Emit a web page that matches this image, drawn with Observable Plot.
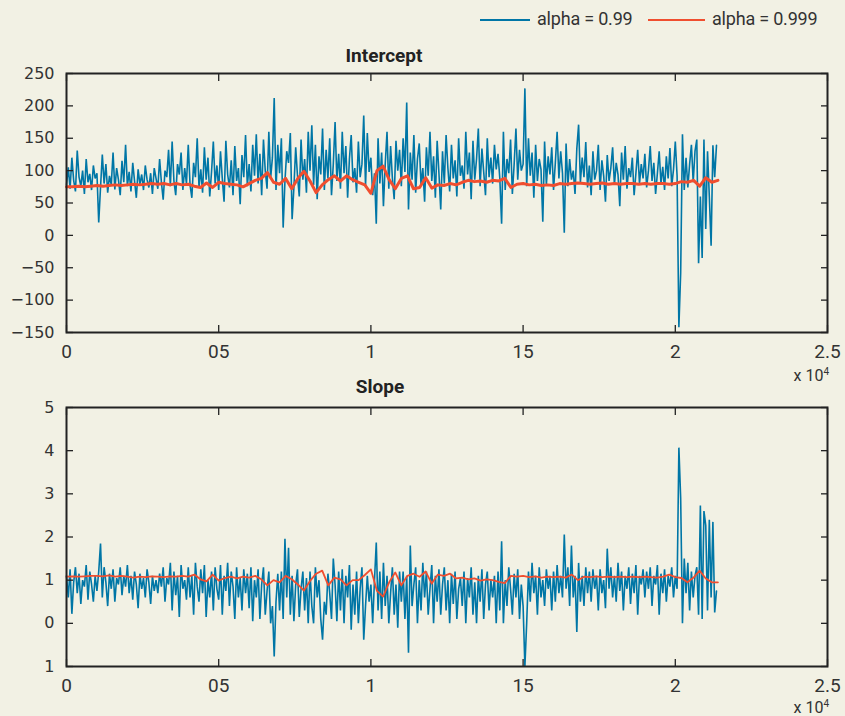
<!DOCTYPE html>
<html>
<head>
<meta charset="utf-8">
<script src="https://cdn.jsdelivr.net/npm/d3@7"></script>
<script src="https://cdn.jsdelivr.net/npm/@observablehq/plot@0.6"></script>
<style>
  body { margin: 0; background: #f2f1e4; }
  #root { position: relative; width: 845px; height: 716px; overflow: hidden; font-family: "DejaVu Sans", sans-serif; color: #333; }
  .abs { position: absolute; white-space: nowrap; }
  .plotwrap { position: absolute; left: 0; }
  .legtext { font-family: Roboto, sans-serif; font-size: 18px; letter-spacing: -0.2px; line-height: 20px; color: #333; }
  .title { font-family: Roboto, sans-serif; font-weight: 700; font-size: 19px; line-height: 22px; color: #222; transform: translateX(-50%); }
  .expo { font-family: Roboto, sans-serif; font-size: 16px; line-height: 18px; color: #333; transform: translateX(-100%); }
  .expo sup { font-size: 10px; vertical-align: 6px; line-height: 0; }
</style>
</head>
<body>
<div id="root"></div>
<script>
const BLUE = "#0076a6";
const RED = "#f04e2f";

// sample spacing of the two series (samples along the x axis)
const blueStep = 1000 / 17;
const redStep = 200;

const xTicks = [0, 5000, 10000, 15000, 20000, 25000];
const xTickLabels = ["0", "05", "1", "15", "2", "2.5"];

const interceptTicks = [-150, -100, -50, 0, 50, 100, 150, 200, 250];
const interceptTickLabels = ["\u2212150", "\u2212100", "\u221250", "0", "50", "100", "150", "200", "250"];

const slopeTicks = [-1, 0, 1, 2, 3, 4, 5];
const slopeTickLabels = ["1", "0", "1", "2", "3", "4", "5"];

const seriesNames = ["alpha = 0.99", "alpha = 0.999"];

// Intercept, alpha = 0.99
const blueIntercept = [
  78,105,72,120,85,68,131,90,76,100,64,118,82,95,70,108,88,
  96,20,74,125,80,110,66,92,78,128,71,104,86,62,115,82,140,
  76,98,68,112,84,58,102,79,94,70,108,86,74,96,64,104,88,
  72,118,82,55,100,90,132,76,145,84,62,110,94,128,70,104,80,
  140,78,58,112,90,150,74,102,66,136,86,120,60,98,145,80,108,
  70,130,88,52,146,94,74,116,62,138,84,104,48,124,90,155,76,
  110,68,140,92,156,80,126,62,148,100,72,160,88,120,212,70,140,
  96,150,12,84,130,112,158,25,74,136,92,60,148,86,118,66,160,
  100,170,78,140,56,122,94,165,70,132,88,150,62,110,175,84,126,
  72,160,96,138,58,118,155,82,104,66,145,90,110,185,76,158,98,
  120,62,96,18,150,80,128,45,110,160,72,138,88,56,146,100,132,
  76,150,98,205,40,128,86,155,66,118,142,78,104,52,136,92,160,
  84,122,58,146,96,40,130,80,155,104,68,140,88,116,60,150,92,
  108,72,160,94,128,56,146,86,118,165,76,134,98,62,150,90,120,
  80,140,102,126,88,18,160,70,118,96,148,64,110,165,86,132,100,
  110,227,76,150,92,128,58,140,84,118,102,21,145,78,122,94,136,
  70,112,160,88,130,96,4,142,76,118,86,100,64,134,171,82,120,
  90,144,74,108,62,130,86,100,140,70,116,92,52,124,84,104,136,
  78,112,94,45,128,86,138,72,104,90,120,62,96,132,80,110,88,
  126,74,100,138,84,112,64,96,130,80,106,70,122,88,135,76,102,
  145,92,-142,-58,156,70,120,74,110,140,82,130,148,-43,60,-35,148,
  10,130,60,-16,139,90,139
];

// Intercept, alpha = 0.999
const redIntercept = [
  75,75,76,75,76, 77,76,77,78,77, 78,79,78,79,80, 79,80,78,80,78,
  79,76,74,81,74, 82,80,79,78,75, 80,85,88,97,82, 79,88,72,88,99,
  84,66,78,86,92, 84,92,86,82,78, 65,100,107,86,72, 88,92,72,74,89,
  73,78,77,80,78, 82,85,83,84,82, 85,84,88,74,79, 80,78,79,77,78,
  77,80,79,80,81, 80,79,80,81,79, 80,79,80,80,79, 80,79,80,80,79,
  80,83,82,85,76, 89,82,85
];

// Slope, alpha = 0.99
const blueSlope = [
  1.1,0.6,1.25,0.22,0.95,1.3,0.7,1.15,0.45,1.0,0.85,1.35,0.55,1.2,0.9,0.5,1.1,
  0.75,1.2,1.85,0.6,1.3,0.95,0.4,1.15,0.8,1.25,0.5,1.05,0.9,1.3,0.65,1.1,0.85,
  1.35,0.7,1.1,0.55,1.2,0.9,0.35,1.15,0.8,1.05,0.6,1.25,0.95,0.45,1.1,0.75,1.0,
  0.7,1.15,0.85,1.3,0.5,1.05,0.9,1.4,0.3,1.2,0.65,1.1,0.15,1.35,0.8,1.0,0.55,
  1.3,0.6,1.1,0.2,1.4,0.85,0.5,1.25,0.7,1.35,0.15,1.0,0.6,1.2,0.3,1.3,0.8,
  0.55,1.35,0.2,1.1,0.75,1.4,0.4,1.2,0.85,0.1,1.3,0.6,1.05,0.3,1.25,0.7,1.15,
  0.35,1.3,0.05,1.0,0.6,1.25,0.1,0.9,1.3,0.2,0.75,1.2,0.0,0.4,-0.77,0.5,1.15,
  0.3,1.2,0.1,1.96,0.6,1.75,0.2,1.1,0.05,0.9,1.25,0.15,0.8,1.2,0.3,1.05,0.0,
  1.2,0.4,0.0,1.3,0.6,1.0,0.1,-0.38,0.5,0.2,1.15,0.7,0.1,1.5,0.9,0.05,1.2,
  0.3,1.25,0.0,1.1,0.6,1.35,-0.15,0.9,0.2,1.2,0.0,0.8,1.3,-0.38,0.4,1.1,0.5,
  0.9,0.0,1.0,1.87,0.3,1.2,0.1,1.4,0.4,1.1,0.0,0.7,1.3,0.2,0.9,-0.1,1.2,
  0.5,1.2,0.1,1.1,-0.68,1.8,0.4,0.9,1.3,0.0,1.0,0.3,1.4,0.6,1.2,0.2,0.8,
  1.35,0.0,1.1,0.5,1.25,0.2,0.9,1.3,0.3,1.0,0.0,1.15,0.45,1.2,0.1,0.8,1.05,
  0.4,1.2,0.0,1.05,0.6,1.3,0.2,0.95,0.0,1.1,0.5,1.25,0.1,0.9,1.2,0.3,1.0,
  0.6,1.1,0.0,1.2,0.3,1.9,0.0,1.0,0.4,1.3,0.8,0.2,1.15,0.6,1.25,0.1,0.9,
  0.4,-1.0,0.0,1.2,0.5,1.4,0.7,1.1,0.2,1.3,0.6,1.0,0.4,1.25,0.8,1.1,0.3,
  1.2,0.5,1.35,0.7,1.1,0.6,2.06,0.8,1.3,0.4,1.8,0.6,1.1,-0.2,1.4,0.5,1.1,
  0.4,1.3,0.7,1.2,0.5,1.25,0.8,1.1,0.3,1.25,0.7,1.0,0.35,1.73,0.8,1.3,0.6,
  1.1,0.5,1.4,0.75,1.2,0.3,1.1,0.8,1.3,0.45,1.15,0.7,1.35,0.2,1.1,0.9,1.25,
  0.6,1.2,0.8,1.3,0.4,1.1,0.9,1.35,0.2,1.15,0.7,1.25,0.5,1.1,0.85,1.3,0.6,
  1.1,0.8,4.07,2.9,0.0,1.5,0.7,1.4,0.3,1.2,0.6,1.1,1.3,0.2,2.73,0.1,2.6,
  2.27,0.3,2.4,0.6,2.35,0.25,0.75
];

// Slope, alpha = 0.999
const redSlope = [
  1.08,1.09,1.08,1.09,1.1, 1.1,1.09,1.11,1.08,1.1, 1.08,1.06,1.08,1.07,1.09, 1.08,1.07,1.09,1.08,1.1,
  1.08,1.13,1.02,0.97,1.13, 0.99,1.05,1.08,1.04,1.08, 1.06,1.1,1.02,0.88,1.0, 0.95,1.1,1.02,0.9,0.76,
  0.98,1.15,1.22,0.88,1.06, 1.02,0.88,1.0,1.0,1.12, 1.25,0.75,0.62,0.95,1.18, 0.88,1.1,1.15,1.08,1.2,
  0.92,1.13,1.1,1.15,1.04, 1.06,1.02,1.04,0.99,1.02, 1.0,0.96,0.93,1.1,1.08, 1.1,1.07,1.09,1.06,1.08,
  1.07,1.08,1.06,1.13,1.0, 1.08,1.07,1.09,1.07,1.08, 1.07,1.08,1.07,1.08,1.07, 1.08,1.07,1.06,1.08,1.13,
  1.07,1.05,0.95,1.06,1.22, 1.04,0.95,0.95
];

function rows(values, step) {
  return values.map((v, i) => ({x: i * step, y: v}));
}

function panel(o) {
  const xLab = new Map(xTicks.map((t, i) => [t, xTickLabels[i]]));
  const yLab = new Map(o.yTicks.map((t, i) => [t, o.yLabels[i]]));
  const tickStyle = {fill: "none", stroke: "#222", strokeWidth: 1.3};
  return Plot.plot({
    width: 845,
    height: o.height,
    marginLeft: 66,
    marginRight: 18,
    marginTop: o.marginTop,
    marginBottom: o.marginBottom,
    style: {background: "transparent", fontFamily: "DejaVu Sans, sans-serif", fontSize: "16px", color: "#333", overflow: "visible"},
    x: {domain: [0, 25000], label: null},
    y: {domain: o.yDomain, label: null},
    marks: [
      Plot.line(rows(o.blue, blueStep), {x: "x", y: "y", stroke: BLUE, strokeWidth: 1.6, strokeLinejoin: "miter"}),
      Plot.line(rows(o.red, redStep), {x: "x", y: "y", stroke: RED, strokeWidth: o.redWidth, strokeLinejoin: "round"}),
      Plot.axisX(xTicks, {anchor: "bottom", tickSize: 0, tickPadding: 12, tickFormat: d => xLab.get(d), fontFamily: "Roboto, sans-serif", fontSize: 19, fill: "#333"}),
      Plot.axisX(xTicks, {anchor: "bottom", tickSize: -7, ...tickStyle}),
      Plot.axisX(xTicks, {anchor: "top", tickSize: -7, ...tickStyle}),
      Plot.axisY(o.yTicks, {anchor: "left", tickSize: 0, tickPadding: 12, tickFormat: d => yLab.get(d), fill: "#333"}),
      Plot.axisY(o.yTicks, {anchor: "left", tickSize: -7, ...tickStyle}),
      Plot.axisY(o.yTicks, {anchor: "right", tickSize: -7, ...tickStyle}),
      Plot.frame({stroke: "#222", strokeWidth: 2})
    ]
  });
}

const root = document.getElementById("root");

function place(el, top) {
  const w = document.createElement("div");
  w.className = "plotwrap";
  w.style.top = top + "px";
  w.appendChild(el);
  root.appendChild(w);
}

place(panel({
  blue: blueIntercept, red: redIntercept,
  yDomain: [-150, 250], yTicks: interceptTicks, yLabels: interceptTickLabels,
  height: 380, marginTop: 73, marginBottom: 48, redWidth: 3
}), 0);

place(panel({
  blue: blueSlope, red: redSlope,
  yDomain: [-1, 5], yTicks: slopeTicks, yLabels: slopeTickLabels,
  height: 336, marginTop: 27, marginBottom: 50, redWidth: 1.8
}), 380);

function addDiv(cls, html, left, top, styleExtra) {
  const d = document.createElement("div");
  d.className = "abs " + cls;
  d.innerHTML = html;
  d.style.left = left + "px";
  d.style.top = top + "px";
  if (styleExtra) Object.assign(d.style, styleExtra);
  root.appendChild(d);
  return d;
}

// legend
addDiv("", "", 480, 18.5, {width: "50px", height: "2px", background: BLUE});
addDiv("legtext", seriesNames[0], 537, 9);
addDiv("", "", 648, 18.5, {width: "57px", height: "2px", background: RED});
addDiv("legtext", seriesNames[1], 712, 9);

// panel titles
addDiv("title", "Intercept", 384, 45);
addDiv("title", "Slope", 380, 376);

// exponent labels
addDiv("expo", "x 10<sup>4</sup>", 829, 367);
addDiv("expo", "x 10<sup>4</sup>", 829, 699);
</script>
</body>
</html>
